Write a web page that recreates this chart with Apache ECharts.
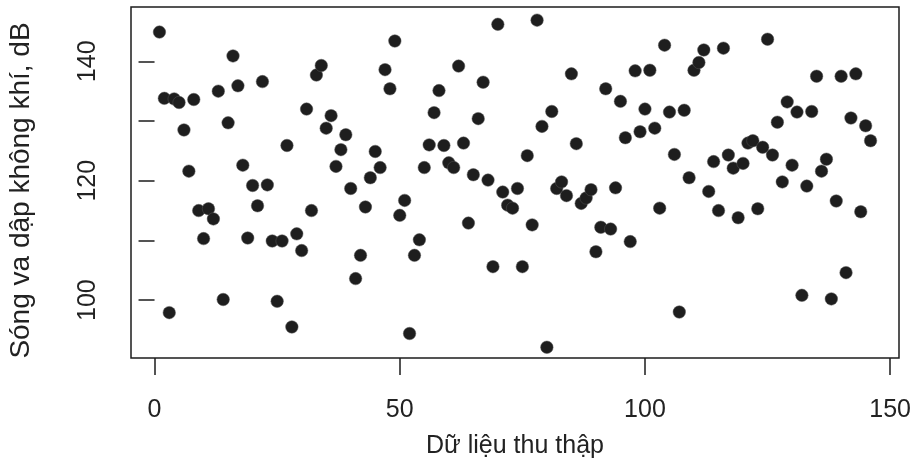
<!DOCTYPE html>
<html>
<head>
<meta charset="utf-8">
<title>Sóng va dập không khí</title>
<script src="https://cdn.jsdelivr.net/npm/echarts@6/dist/echarts.min.js"></script>
<style>
  html, body { margin: 0; padding: 0; background: #ffffff; }
  #chart { width: 915px; height: 459px; }
</style>
</head>
<body>
<div id="chart"></div>
<script>
  "use strict";

  // Measured noise level (dB) for each collected sample, in order 1..146.
  var noiseDb = [
    144.9, 133.8, 97.9, 133.7, 133.1, 128.5, 121.6, 133.6, 115.0, 110.3,
    115.3, 113.6, 135.0, 100.1, 129.7, 140.9, 135.9, 122.6, 110.4, 119.2,
    115.8, 136.6, 119.3, 109.9, 99.8, 109.9, 125.9, 95.5, 111.1, 108.3,
    132.0, 115.0, 137.7, 139.3, 128.8, 130.9, 122.4, 125.2, 127.7, 118.7,
    103.6, 107.5, 115.6, 120.5, 124.9, 122.2, 138.6, 135.4, 143.4, 114.2,
    116.7, 94.4, 107.5, 110.1, 122.2, 126.0, 131.4, 135.1, 125.9, 123.0,
    122.2, 139.2, 126.3, 112.9, 121.0, 130.4, 136.5, 120.1, 105.6, 146.2,
    118.1, 115.9, 115.4, 118.7, 105.6, 124.2, 112.6, 146.9, 129.1, 92.1,
    131.6, 118.7, 119.8, 117.5, 137.9, 126.2, 116.2, 117.1, 118.5, 108.1,
    112.2, 135.4, 111.9, 118.8, 133.3, 127.2, 109.8, 138.4, 128.2, 132.0,
    138.5, 128.8, 115.4, 142.7, 131.5, 124.4, 98.0, 131.8, 120.5, 138.5,
    139.8, 141.9, 118.2, 123.2, 115.0, 142.2, 124.3, 122.1, 113.8, 122.9,
    126.3, 126.7, 115.3, 125.6, 143.7, 124.3, 129.8, 119.8, 133.2, 122.6,
    131.5, 100.8, 119.1, 131.6, 137.5, 121.6, 123.6, 100.2, 116.6, 137.5,
    104.6, 130.5, 137.9, 114.8, 129.2, 126.7
  ];

  var xTicks = [0, 50, 100, 150];
  var yTicks = [100, 110, 120, 130, 140];
  var yLabels = [100, 120, 140];

  var xTitle = "Dữ liệu thu thập";
  var yTitle = "Sóng va dập không khí, dB";

  var fontFamily = "Liberation Sans, Arial, sans-serif";
  var inkColor = "#1c1c1c";

  function buildPoints(values) {
    return values.map(function(v, i) {
      return [i + 1, v];
    });
  }

  var chart = echarts.init(document.getElementById("chart"), null, {renderer: "canvas"});

  chart.setOption({
    backgroundColor: "#ffffff",
    animation: false,
    grid: {
      left: 131,
      right: 16,
      top: 7,
      bottom: 101,
      // keep the plot box where it is, even if titles reach the edge
      outerBoundsMode: "none",
      containLabel: false,
      show: true,
      borderColor: inkColor,
      borderWidth: 1.5,
      backgroundColor: "transparent"
    },
    xAxis: {
      type: "value",
      // R pads the data range by 4% on each side
      min: -4.8,
      max: 151.8,
      splitLine: {show: false},
      axisLine: {show: false},
      axisTick: {
        show: true,
        customValues: xTicks,
        length: 17,
        lineStyle: {color: inkColor, width: 1.5}
      },
      axisLabel: {
        customValues: xTicks,
        margin: 40,
        fontSize: 25,
        fontFamily: fontFamily,
        color: "#222222"
      },
      name: xTitle,
      nameLocation: "middle",
      nameGap: 76,
      nameTextStyle: {
        fontSize: 25,
        fontFamily: fontFamily,
        color: "#222222"
      }
    },
    yAxis: {
      type: "value",
      min: 90.3,
      max: 149.1,
      splitLine: {show: false},
      axisLine: {show: false},
      axisTick: {
        show: true,
        customValues: yTicks,
        length: 16,
        lineStyle: {color: inkColor, width: 1.5}
      },
      axisLabel: {
        customValues: yLabels,
        rotate: 90,
        margin: 30,
        fontSize: 25,
        fontFamily: fontFamily,
        color: "#222222"
      },
      name: yTitle,
      nameLocation: "middle",
      nameGap: 96,
      nameRotate: 90,
      nameTextStyle: {
        fontSize: 28,
        fontFamily: fontFamily,
        color: "#222222",
        // nudge the title down a little, like the reference
        padding: [0, 16, 0, 0]
      }
    },
    series: [{
      type: "scatter",
      data: buildPoints(noiseDb),
      symbol: "circle",
      symbolSize: 12.5,
      itemStyle: {
        color: "#1e1e1e",
        opacity: 1,
        borderColor: "#555555",
        borderWidth: 0.5
      }
    }]
  });
</script>
</body>
</html>
